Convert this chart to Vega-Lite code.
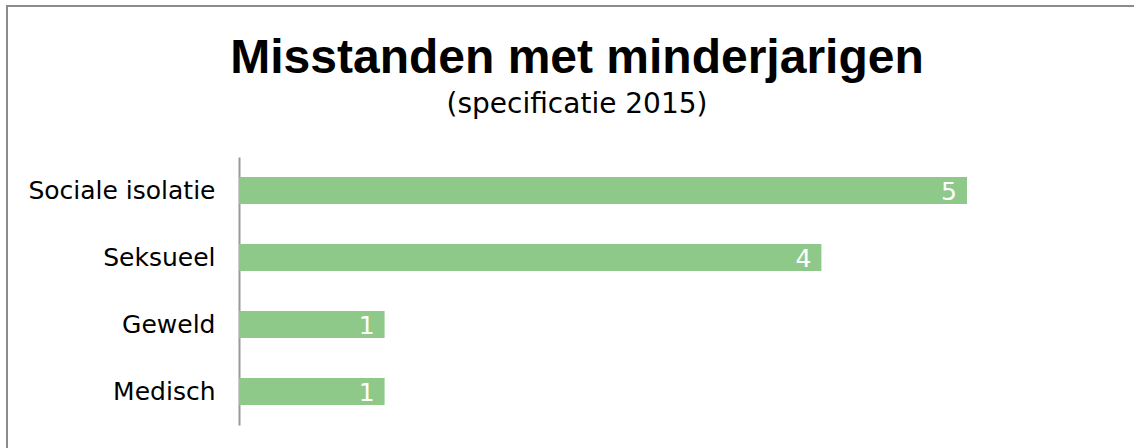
{
  "$schema": "https://vega.github.io/schema/vega-lite/v6.json",
  "autosize": "none",
  "padding": {"left": 7, "top": 6, "right": 0, "bottom": 0},
  "width": 1140,
  "height": 450,
  "background": "white",
  "title": {
    "text": "Misstanden met minderjarigen",
    "subtitle": "(specificatie 2015)",
    "anchor": "middle",
    "frame": "group",
    "orient": "top",
    "offset": -113,
    "font": "Liberation Sans",
    "fontSize": 48,
    "fontWeight": "bold",
    "color": "#000000",
    "subtitleFont": "DejaVu Sans",
    "subtitleFontSize": 28,
    "subtitleColor": "#000000",
    "subtitlePadding": 8
  },
  "config": {
    "view": {"stroke": "#8c8c8c", "strokeWidth": 2},
    "font": "DejaVu Sans"
  },
  "data": {
    "values": [
      {"categorie": "Sociale isolatie", "aantal": 5},
      {"categorie": "Seksueel", "aantal": 4},
      {"categorie": "Geweld", "aantal": 1},
      {"categorie": "Medisch", "aantal": 1}
    ]
  },
  "encoding": {
    "y": {
      "field": "categorie",
      "type": "nominal",
      "sort": null,
      "scale": {"range": [151, 419], "paddingInner": 0.6, "paddingOuter": 0.3},
      "axis": {
        "title": null,
        "offset": -232,
        "ticks": false,
        "labelPadding": 24,
        "labelFontSize": 25,
        "labelLimit": 0,
        "labelColor": "#000000",
        "labelFont": "DejaVu Sans",
        "domainColor": "#9a9a9a",
        "domainWidth": 2,
        "grid": false
      }
    },
    "x": {
      "field": "aantal",
      "type": "quantitative",
      "scale": {"domain": [0, 5], "range": [232, 960], "nice": false},
      "axis": null
    }
  },
  "layer": [
    {"mark": {"type": "bar", "color": "#8ec98a"}},
    {
      "mark": {"type": "text", "align": "right", "baseline": "middle", "dx": -10, "dy": 1, "color": "#ffffff", "fontSize": 25, "font": "DejaVu Sans"},
      "encoding": {"text": {"field": "aantal", "type": "quantitative"}}
    }
  ]
}
